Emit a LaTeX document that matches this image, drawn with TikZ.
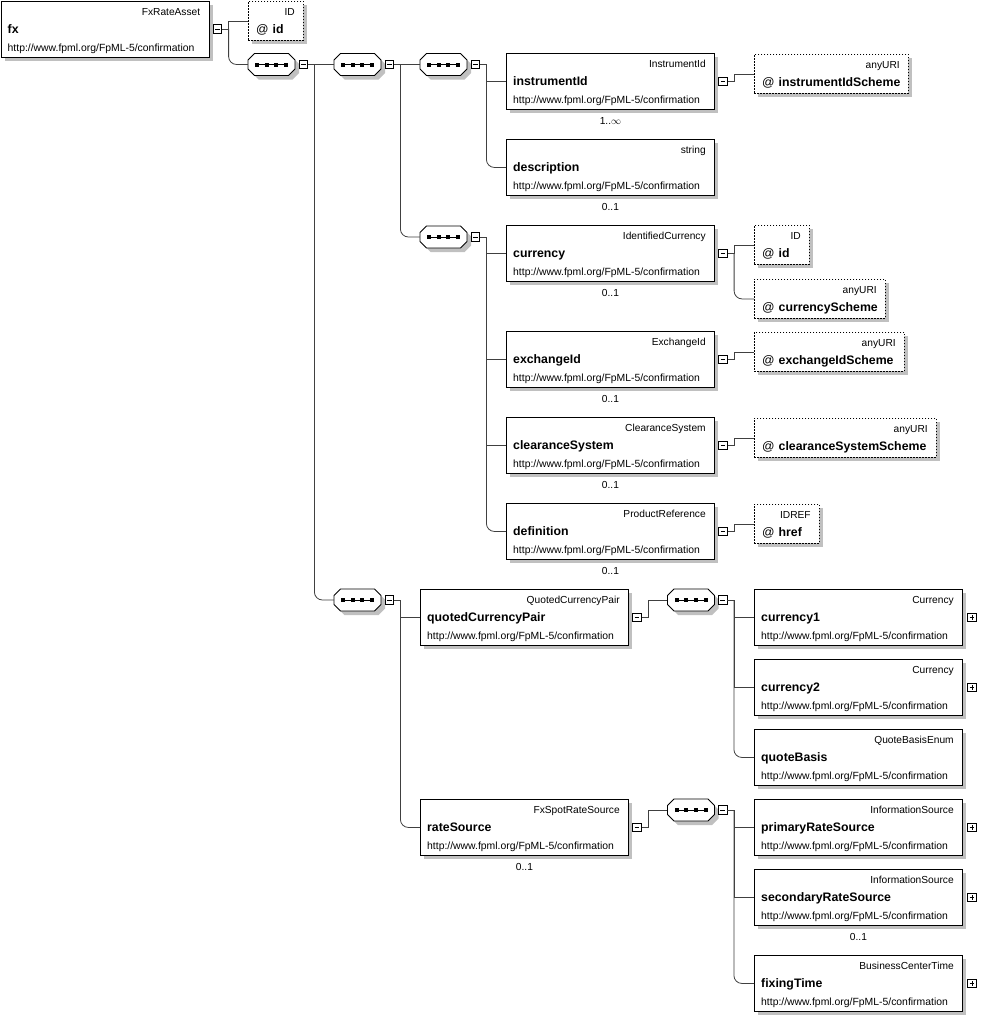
\documentclass[tikz,border=0pt]{standalone}
\usepackage{fontspec}
\setmainfont{Liberation Sans}
\usetikzlibrary{positioning,shadows}
\definecolor{ShadowGray}{RGB}{192,192,192}
\definecolor{LineGray}{RGB}{64,64,64}

\tikzset{
  elembox/.style={draw, fill=white, line width=0.9pt, minimum width=208pt, minimum height=56pt,
    inner sep=0pt, anchor=north west,
    drop shadow={shadow xshift=4pt, shadow yshift=-4pt, fill=ShadowGray, opacity=1}},
  attrbox/.style={draw, dash pattern=on 1.5pt off 1.5pt, fill=white, line width=0.9pt,
    minimum height=39pt, inner sep=0pt, anchor=north west,
    drop shadow={shadow xshift=4pt, shadow yshift=-4pt, fill=ShadowGray, opacity=1}},
  seqbox/.style={minimum width=47pt, minimum height=22pt, inner sep=0pt},
  typetext/.style={font=\fontsize{10.2}{12}\selectfont, inner sep=0pt, anchor=base east},
  nametext/.style={font=\fontsize{12.3}{14}\selectfont\bfseries, inner sep=0pt, anchor=base west},
  urltext/.style={font=\fontsize{10.4}{12}\selectfont, inner sep=0pt, anchor=base west},
  occtext/.style={font=\fontsize{10.2}{12}\selectfont, inner sep=0pt, anchor=base},
  minusbox/.style={draw, fill=white, minimum size=8.5pt, inner sep=0pt, line width=0.7pt,
    path picture={\draw[line width=0.9pt] ([xshift=1.8pt]path picture bounding box.west)
      -- ([xshift=-1.8pt]path picture bounding box.east);}},
  plusbox/.style={minusbox,
    path picture={\draw[line width=0.9pt] ([xshift=1.8pt]path picture bounding box.west)
      -- ([xshift=-1.8pt]path picture bounding box.east);
      \draw[line width=0.9pt] ([yshift=-1.8pt]path picture bounding box.north)
      -- ([yshift=1.8pt]path picture bounding box.south);}},
  conn/.style={draw=LineGray, line width=0.8pt},
}

% element box: name, x, y, type, label
\newcommand{\fpelem}[5]{%
  \node[elembox] (#1) at (#2,#3) {};
  \node[typetext] (#1-t) at ([xshift=-9pt,yshift=-14.5pt]#1.north east) {#4};
  \node[nametext] (#1-n) at ([xshift=7pt,yshift=-32.5pt]#1.north west) {#5};
  \node[urltext] (#1-u) at ([xshift=7pt,yshift=-50.5pt]#1.north west) {http://www.fpml.org/FpML-5/confirmation};
}
% attribute box: name, x, y, width, type, label
\newcommand{\fpattr}[6]{%
  \node[attrbox, minimum width=#4pt] (#1) at (#2,#3) {};
  \node[typetext] (#1-t) at ([xshift=-9pt,yshift=-14.5pt]#1.north east) {#5};
  \node[nametext] (#1-n) at ([xshift=8pt,yshift=-32pt]#1.north west) {{\mdseries @}\hspace{4pt}#6};
}
% occurrence below a box
\newcommand{\fpocc}[2]{%
  \node[occtext] (#1-o) at ([yshift=-15pt]#1.south) {#2};
}
% sequence compositor: name, x, y
\newcommand{\fpoct}{(-17,-11) -- (17,-11) -- (23.5,-4.5) -- (23.5,4.5) -- (17,11) -- (-17,11) -- (-23.5,4.5) -- (-23.5,-4.5) -- cycle}
\newcommand{\fpseq}[3]{%
  \fill[ShadowGray, shift={(#2+4,#3+4)}] \fpoct;
  \draw[fill=white, line width=0.9pt, shift={(#2,#3)}] \fpoct;
  \draw[line width=1pt, shift={(#2,#3)}] (-14.5,0) -- (14.5,0);
  \foreach \dx in {-14.5,-4.8,4.8,14.5}
    \fill[shift={(#2,#3)}] (\dx-2,-2) rectangle (\dx+2,2);
  \node[seqbox] (#1) at (#2,#3) {};
}

\begin{document}
\begin{tikzpicture}[x=1pt, y=-1pt]
  \path[use as bounding box, fill=white] (0,0) rectangle (1004,1017);

  % Root element
  \fpelem{fx}{0.5}{0.5}{FxRateAsset}{fx}
  \node[minusbox, right=3.5pt of fx] (fx-m) {};
  \fpattr{fxId}{248}{1}{55}{ID}{id}

  % Sequences
  \fpseq{seqA}{271.5}{64.5}
  \fpseq{seqB}{357.5}{64.5}
  \fpseq{seqC}{443.5}{64.5}
  \fpseq{seqD}{443.5}{237}
  \fpseq{seqE}{357.5}{600}
  \fpseq{seqF}{691}{600}
  \fpseq{seqG}{691}{810}
  \foreach \s in {seqA,seqB,seqC,seqD,seqE,seqF,seqG}
    \node[minusbox, right=3.5pt of \s] (\s-m) {};

  % Instrument part
  \fpelem{instrId}{506}{53}{InstrumentId}{instrumentId}
  \fpocc{instrId}{1..$\infty$}
  \fpelem{descr}{506}{139}{string}{description}
  \fpocc{descr}{0..1}
  \fpelem{ccy}{506}{225}{IdentifiedCurrency}{currency}
  \fpocc{ccy}{0..1}
  \fpelem{exch}{506}{331}{ExchangeId}{exchangeId}
  \fpocc{exch}{0..1}
  \fpelem{clrSys}{506}{417}{ClearanceSystem}{clearanceSystem}
  \fpocc{clrSys}{0..1}
  \fpelem{defn}{506}{503}{ProductReference}{definition}
  \fpocc{defn}{0..1}
  \foreach \e in {instrId,ccy,exch,clrSys,defn}
    \node[minusbox, right=3.5pt of \e] (\e-m) {};

  % Attributes
  \fpattr{instrScheme}{754}{54}{154}{anyURI}{instrumentIdScheme}
  \fpattr{ccyId}{754}{225}{55}{ID}{id}
  \fpattr{ccyScheme}{754}{279}{131}{anyURI}{currencyScheme}
  \fpattr{exchScheme}{754}{332}{150}{anyURI}{exchangeIdScheme}
  \fpattr{clrScheme}{754}{418}{182}{anyURI}{clearanceSystemScheme}
  \fpattr{href}{754}{504}{65}{IDREF}{href}

  % Currency pair and rate source
  \fpelem{qcp}{420}{589}{QuotedCurrencyPair}{quotedCurrencyPair}
  \fpelem{rateSrc}{420}{799}{FxSpotRateSource}{rateSource}
  \fpocc{rateSrc}{0..1}
  \node[minusbox, right=3.5pt of qcp] (qcp-m) {};
  \node[minusbox, right=3.5pt of rateSrc] (rateSrc-m) {};

  \fpelem{ccy1}{754}{589}{Currency}{currency1}
  \fpelem{ccy2}{754}{659}{Currency}{currency2}
  \fpelem{qBasis}{754}{729}{QuoteBasisEnum}{quoteBasis}
  \fpelem{primSrc}{754}{799}{InformationSource}{primaryRateSource}
  \fpelem{secSrc}{754}{869}{InformationSource}{secondaryRateSource}
  \fpocc{secSrc}{0..1}
  \fpelem{fixTime}{754}{955}{BusinessCenterTime}{fixingTime}
  \foreach \e in {ccy1,ccy2,primSrc,secSrc,fixTime}
    \node[plusbox, right=4.5pt of \e] (\e-p) {};

  % Connectors
  \draw[conn] (fx-m.east) -- ++(6.5,0) coordinate (fx-j) |- (fxId.west);
  \draw[conn, rounded corners=8pt] (fx-j) |- (seqA.west);

  \draw[conn] (seqA-m.east) -- (seqB.west);
  \draw[conn] (seqA-m.east) -- ++(6.5,0) coordinate (seqA-j);
  \draw[conn, rounded corners=8pt] (seqA-j) |- (seqE.west);

  \draw[conn] (seqB-m.east) -- (seqC.west);
  \draw[conn] (seqB-m.east) -- ++(6.5,0) coordinate (seqB-j);
  \draw[conn, rounded corners=8pt] (seqB-j) |- (seqD.west);

  \draw[conn] (seqC-m.east) -- ++(6.5,0) coordinate (seqC-j) |- (instrId.west);
  \draw[conn, rounded corners=8pt] (seqC-j) |- (descr.west);

  \draw[conn] (seqD-m.east) -- ++(6.5,0) coordinate (seqD-j) |- (ccy.west);
  \draw[conn] (seqD-j) |- (exch.west);
  \draw[conn] (seqD-j) |- (clrSys.west);
  \draw[conn, rounded corners=8pt] (seqD-j) |- (defn.west);

  \draw[conn] (instrId-m.east) -- ++(6.5,0) |- (instrScheme.west);
  \draw[conn] (ccy-m.east) -- ++(6.5,0) coordinate (ccy-j) |- (ccyId.west);
  \draw[conn, rounded corners=8pt] (ccy-j) |- (ccyScheme.west);
  \draw[conn] (exch-m.east) -- ++(6.5,0) |- (exchScheme.west);
  \draw[conn] (clrSys-m.east) -- ++(6.5,0) |- (clrScheme.west);
  \draw[conn] (defn-m.east) -- ++(6.5,0) |- (href.west);

  \draw[conn] (seqE-m.east) -- ++(6.5,0) coordinate (seqE-j) |- (qcp.west);
  \draw[conn, rounded corners=8pt] (seqE-j) |- (rateSrc.west);

  \draw[conn] (qcp-m.east) -- ++(6.5,0) |- (seqF.west);
  \draw[conn] (rateSrc-m.east) -- ++(6.5,0) |- (seqG.west);

  \draw[conn] (seqF-m.east) -- ++(6.5,0) coordinate (seqF-j) |- (ccy1.west);
  \draw[conn] (seqF-j) |- (ccy2.west);
  \draw[conn, rounded corners=8pt] (seqF-j) |- (qBasis.west);

  \draw[conn] (seqG-m.east) -- ++(6.5,0) coordinate (seqG-j) |- (primSrc.west);
  \draw[conn] (seqG-j) |- (secSrc.west);
  \draw[conn, rounded corners=8pt] (seqG-j) |- (fixTime.west);
\end{tikzpicture}
\end{document}
